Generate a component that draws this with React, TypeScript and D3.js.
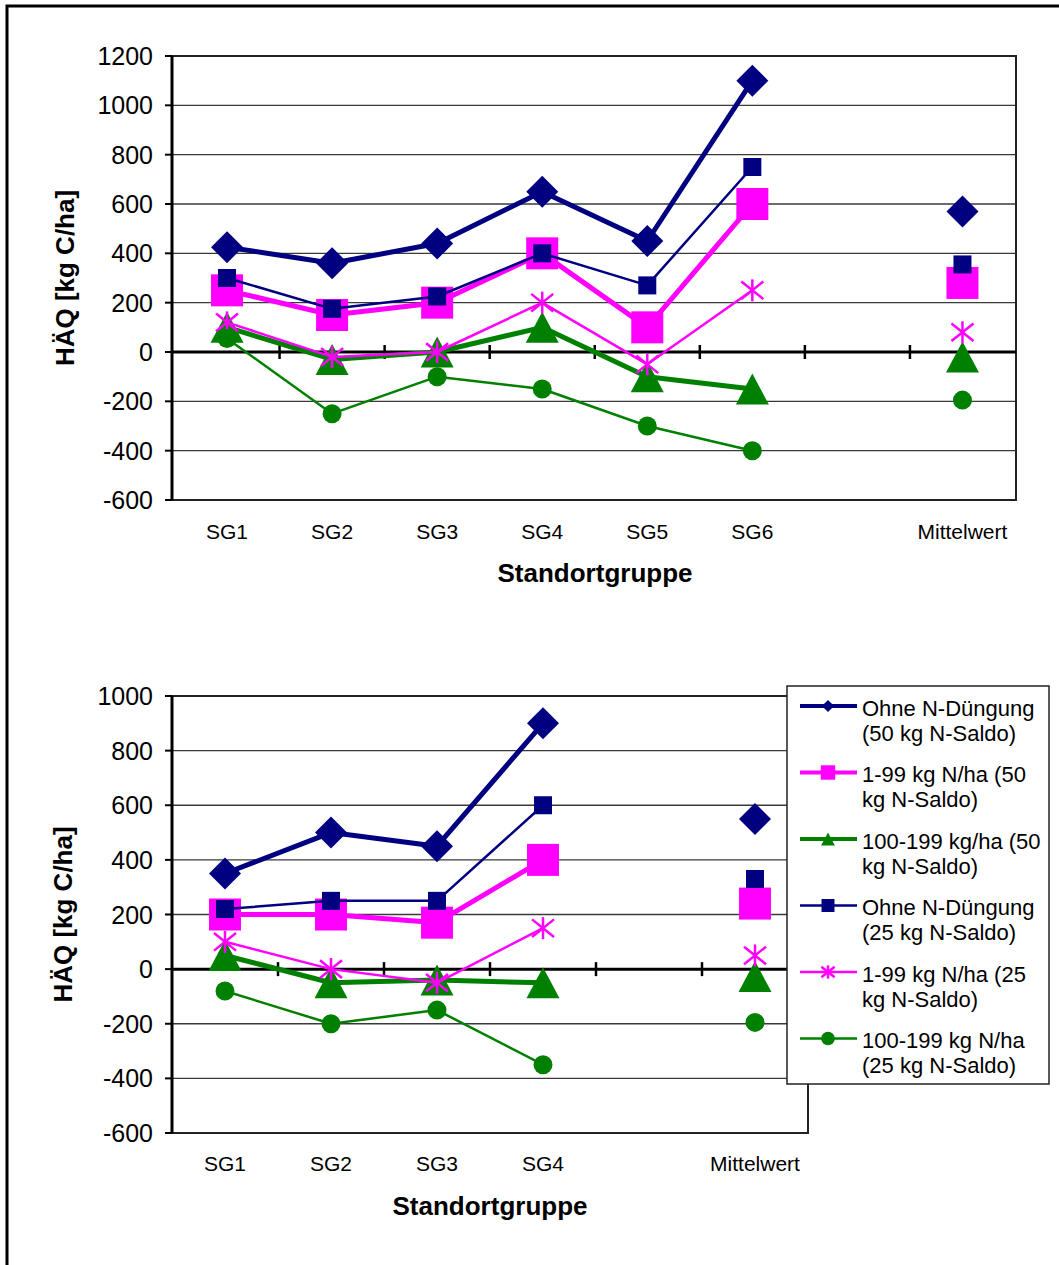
import React from "react";
import * as d3 from "d3";

const topCategories = ["SG1", "SG2", "SG3", "SG4", "SG5", "SG6", "", "Mittelwert"];
const bottomCategories = ["SG1", "SG2", "SG3", "SG4", "", "Mittelwert"];

// Top chart series (null = no value)
const topOhne50 = [425, 360, 440, 650, 450, 1100, null, 570];
const top199_50 = [250, 150, 200, 400, 100, 600, null, 280];
const top100_50 = [100, -30, 0, 100, -100, -150, null, -20];
const topOhne25 = [300, 175, 225, 400, 270, 750, null, 355];
const top199_25 = [120, -20, 0, 200, -50, 250, null, 80];
const top100_25 = [55, -250, -100, -150, -300, -400, null, -195];

// Bottom chart series
const botOhne50 = [350, 500, 450, 900, null, 550];
const bot199_50 = [200, 200, 170, 400, null, 240];
const bot100_50 = [50, -50, -40, -50, null, -27];
const botOhne25 = [220, 250, 250, 600, null, 330];
const bot199_25 = [100, 0, -50, 150, null, 50];
const bot100_25 = [-80, -200, -150, -350, null, -195];

const topTicks = [-600, -400, -200, 0, 200, 400, 600, 800, 1000, 1200];
const bottomTicks = [-600, -400, -200, 0, 200, 400, 600, 800, 1000];

const legendLabels = [
  ["Ohne N-Düngung", "(50 kg N-Saldo)"],
  ["1-99 kg N/ha (50", "kg N-Saldo)"],
  ["100-199 kg/ha (50", "kg N-Saldo)"],
  ["Ohne N-Düngung", "(25 kg N-Saldo)"],
  ["1-99 kg N/ha (25", "kg N-Saldo)"],
  ["100-199 kg N/ha", "(25 kg N-Saldo)"],
];

const NAVY = "#000080";
const MAG = "#FF00FF";
const GREEN = "#008000";
const FONT = "'Liberation Sans', Arial, sans-serif";

type Marker = "diamond" | "bigsquare" | "triangle" | "square" | "star" | "circle";
const styles: { color: string; width: number; marker: Marker }[] = [
  { color: NAVY, width: 5, marker: "diamond" },
  { color: MAG, width: 5, marker: "bigsquare" },
  { color: GREEN, width: 5, marker: "triangle" },
  { color: NAVY, width: 2.5, marker: "square" },
  { color: MAG, width: 2.5, marker: "star" },
  { color: GREEN, width: 2.5, marker: "circle" },
];

function MarkerShape({ x, y, marker, color, scale = 1 }: { x: number; y: number; marker: Marker; color: string; scale?: number }) {
  const s = scale;
  switch (marker) {
    case "diamond": {
      const r = 16 * s;
      return <polygon points={`${x},${y - r} ${x + r},${y} ${x},${y + r} ${x - r},${y}`} fill={color} />;
    }
    case "bigsquare": {
      const h = 16 * s;
      return <rect x={x - h} y={y - h} width={2 * h} height={2 * h} fill={color} />;
    }
    case "square": {
      const h = 9 * s;
      return <rect x={x - h} y={y - h} width={2 * h} height={2 * h} fill={color} />;
    }
    case "triangle": {
      const w = 16.5 * s;
      const h = 15.5 * s;
      return <polygon points={`${x},${y - h} ${x + w},${y + h} ${x - w},${y + h}`} fill={color} />;
    }
    case "circle":
      return <circle cx={x} cy={y} r={9.5 * s} fill={color} />;
    case "star": {
      const r = 11 * s;
      return (
        <g stroke={color} strokeWidth={2.5}>
          <line x1={x} y1={y - r} x2={x} y2={y + r} />
          <line x1={x - r} y1={y - r * 0.8} x2={x + r} y2={y + r * 0.8} />
          <line x1={x - r} y1={y + r * 0.8} x2={x + r} y2={y - r * 0.8} />
        </g>
      );
    }
  }
  return null;
}

function Chart({
  categories,
  series,
  ticks,
  x0,
  x1,
  bx0,
  bx1,
  yTop,
  yBottom,
  domain,
  catLabelY,
  xTitleX,
  xTitleY,
  yTitleX,
}: {
  categories: string[];
  series: (number | null)[][];
  ticks: number[];
  x0: number;
  x1: number;
  bx0: number;
  bx1: number;
  yTop: number;
  yBottom: number;
  domain: [number, number];
  catLabelY: number;
  xTitleX: number;
  xTitleY: number;
  yTitleX: number;
}) {
  const keys = categories.map((_, i) => String(i));
  const xb = d3.scaleBand<string>().domain(keys).range([bx0, bx1]).padding(0);
  const xc = (i: number) => (xb(String(i)) as number) + xb.bandwidth() / 2;
  const y = d3.scaleLinear().domain(domain).range([yBottom, yTop]);
  const y0 = y(0);
  const line = d3
    .line<number | null>()
    .defined((d) => d !== null)
    .x((_, i) => xc(i))
    .y((d) => y(d as number));

  return (
    <g>
      {ticks
        .filter((t) => t !== 0 && t !== domain[0] && t !== domain[1])
        .map((t) => (
          <line key={"g" + t} x1={x0} x2={x1} y1={y(t)} y2={y(t)} stroke="#3a3a3a" strokeWidth={1.4} />
        ))}
      <rect x={x0} y={yTop} width={x1 - x0} height={yBottom - yTop} fill="none" stroke="#222" strokeWidth={2} />
      <line x1={x0} x2={x0} y1={yTop} y2={yBottom} stroke="#000" strokeWidth={3} />
      {ticks.map((t) => (
        <g key={"t" + t}>
          <line x1={x0 - 7} x2={x0} y1={y(t)} y2={y(t)} stroke="#000" strokeWidth={2} />
          <text x={153} y={y(t)} textAnchor="end" dominantBaseline="central" fontFamily={FONT} fontSize={25} fill="#000">
            {t}
          </text>
        </g>
      ))}
      <line x1={x0} x2={x1} y1={y0} y2={y0} stroke="#000" strokeWidth={3} />
      {keys.slice(1).map((k) => (
        <line key={"ct" + k} x1={xb(k) as number} x2={xb(k) as number} y1={y0 - 7} y2={y0 + 7} stroke="#000" strokeWidth={2.5} />
      ))}
      {categories.map((c, i) => (
        <text key={"c" + i} x={xc(i)} y={catLabelY} textAnchor="middle" dominantBaseline="central" fontFamily={FONT} fontSize={21} fill="#000">
          {c}
        </text>
      ))}
      <text x={xTitleX} y={xTitleY} textAnchor="middle" dominantBaseline="central" fontFamily={FONT} fontSize={26} fontWeight="bold" fill="#000">
        Standortgruppe
      </text>
      <text
        transform={`translate(${yTitleX},${(yTop + yBottom) / 2}) rotate(-90)`}
        textAnchor="middle"
        dominantBaseline="central"
        fontFamily={FONT}
        fontSize={26}
        fontWeight="bold"
        fill="#000"
      >
        HÄQ [kg C/ha]
      </text>
      {series.map((vals, si) => (
        <g key={"s" + si}>
          <path d={line(vals) || ""} fill="none" stroke={styles[si].color} strokeWidth={styles[si].width} strokeLinejoin="round" />
          {vals.map((v, i) =>
            v === null ? null : <MarkerShape key={i} x={xc(i)} y={y(v)} marker={styles[si].marker} color={styles[si].color} />
          )}
        </g>
      ))}
    </g>
  );
}

function Legend() {
  const lx = 787;
  const ly = 686;
  const spacing = 66.5;
  const legendScale: Record<Marker, number> = {
    diamond: 0.38,
    bigsquare: 0.45,
    triangle: 0.42,
    star: 0.6,
    square: 0.72,
    circle: 0.72,
  };
  return (
    <g>
      <rect x={lx} y={ly} width={262} height={398} fill="#fff" stroke="#222" strokeWidth={1.5} />
      {legendLabels.map((lab, i) => {
        const cy = 706 + i * spacing;
        const st = styles[i];
        return (
          <g key={"l" + i}>
            <line x1={800} x2={857} y1={cy} y2={cy} stroke={st.color} strokeWidth={st.width === 5 ? 4 : 2.5} />
            <MarkerShape x={828} y={cy} marker={st.marker} color={st.color} scale={legendScale[st.marker]} />
            <text x={862} y={cy + 2} dominantBaseline="central" fontFamily={FONT} fontSize={22} fill="#000">
              {lab[0]}
            </text>
            <text x={862} y={cy + 27} dominantBaseline="central" fontFamily={FONT} fontSize={22} fill="#000">
              {lab[1]}
            </text>
          </g>
        );
      })}
    </g>
  );
}

export default function App() {
  return (
    <svg width={1059} height={1265} style={{ position: "absolute", left: 0, top: 0, background: "#fff" }}>
      <rect x={0} y={0} width={1059} height={1265} fill="#fff" />
      <rect x={7} y={6} width={1200} height={1400} fill="none" stroke="#000" strokeWidth={3} />
      <Chart
        categories={topCategories}
        series={[topOhne50, top199_50, top100_50, topOhne25, top199_25, top100_25]}
        ticks={topTicks}
        x0={172}
        x1={1016}
        bx0={174.5}
        bx1={1015}
        yTop={56}
        yBottom={500}
        domain={[-600, 1200]}
        catLabelY={531}
        xTitleX={595}
        xTitleY={573}
        yTitleX={65}
      />
      <Chart
        categories={bottomCategories}
        series={[botOhne50, bot199_50, bot100_50, botOhne25, bot199_25, bot100_25]}
        ticks={bottomTicks}
        x0={172}
        x1={808}
        bx0={172}
        bx1={808}
        yTop={696}
        yBottom={1133}
        domain={[-600, 1000]}
        catLabelY={1163}
        xTitleX={490}
        xTitleY={1206}
        yTitleX={63}
      />
      <Legend />
    </svg>
  );
}
